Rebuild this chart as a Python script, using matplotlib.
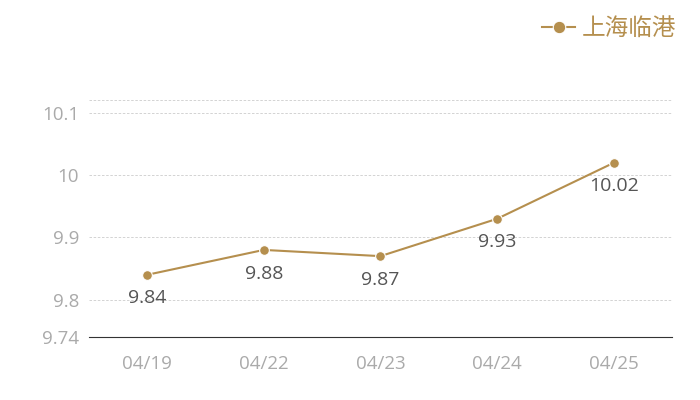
import matplotlib
matplotlib.use("Agg")
import matplotlib.pyplot as plt

plt.rcParams["font.family"] = ["Open Sans", "Noto Sans CJK SC", "DejaVu Sans"]

GOLD = "#b58f4e"
TICK = "#aaaaaa"
LABEL = "#555555"

dates = ["04/19", "04/22", "04/23", "04/24", "04/25"]
values = [9.84, 9.88, 9.87, 9.93, 10.02]
series_name = "上海临港"
yticks = [9.74, 9.8, 9.9, 10, 10.1]

fig = plt.figure(figsize=(7, 4), dpi=100)
ax = fig.add_axes([0.127, 0.1575, 0.833, 0.5925])

x = range(len(dates))
ax.plot(x, values, color=GOLD, linewidth=1.5, marker="o", markersize=7,
        markeredgecolor="white", markeredgewidth=0.8, zorder=3)
for xi, v in zip(x, values):
    ax.annotate(f"{v:g}", (xi, v), xytext=(0, -17), textcoords="offset points",
                ha="center", va="center", fontsize=14, color=LABEL)

ax.set_xlim(-0.5, len(dates) - 0.5)
ax.set_ylim(9.74, 10.121)
ax.set_xticks(list(x))
ax.set_xticklabels(dates)
ax.set_yticks(yticks)
ax.set_yticklabels([f"{t:g}" for t in yticks])
ax.tick_params(axis="both", length=0, colors=TICK, labelsize=13.5)
ax.tick_params(axis="x", pad=13)
ax.tick_params(axis="y", pad=7)

ax.grid(axis="y", color="#cccccc", linestyle=(0, (3, 2)), linewidth=0.6)
ax.axhline(10.121, color="#cccccc", linestyle=(0, (3, 2)), linewidth=0.6)
for s in ["top", "right", "left"]:
    ax.spines[s].set_visible(False)
ax.spines["bottom"].set_color("#333333")
ax.spines["bottom"].set_linewidth(0.8)

ax.plot([], [], color=GOLD, linewidth=1.5, marker="o", markersize=9,
        markeredgecolor="white", markeredgewidth=0.8, label=series_name)
leg = fig.legend(loc="upper right", bbox_to_anchor=(0.997, 1.01), frameon=False,
                 prop={"family": ["Noto Sans CJK SC"], "size": 17},
                 handlelength=1.4, handletextpad=0.3)
for t in leg.get_texts():
    t.set_color(GOLD)

fig.savefig("out.png", dpi=100, facecolor="white")
